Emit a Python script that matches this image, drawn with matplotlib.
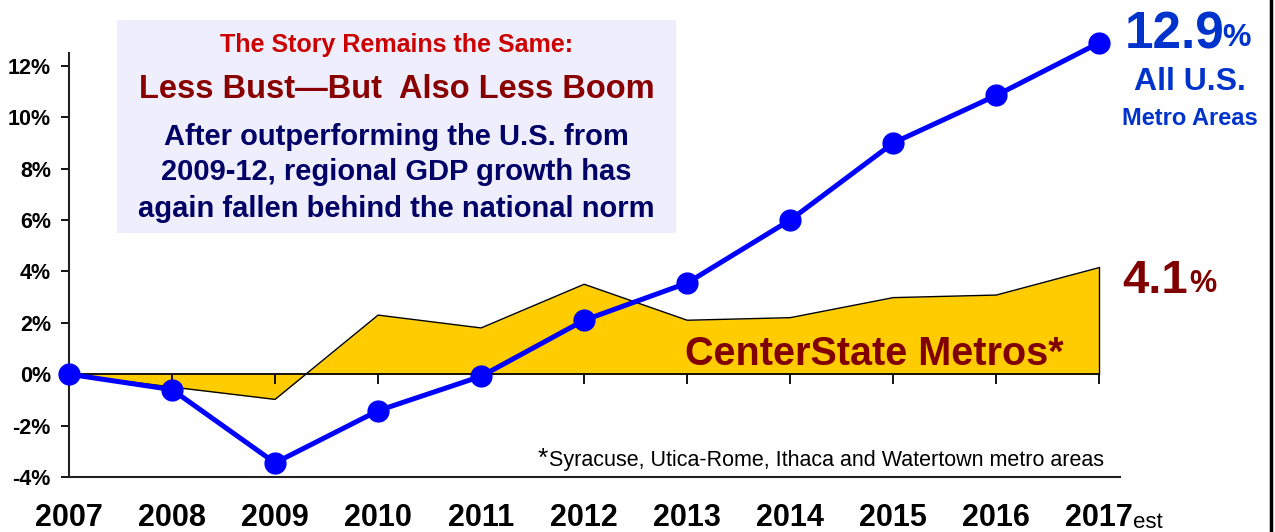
import numpy as np
import matplotlib.pyplot as plt
from matplotlib.patches import Rectangle
from matplotlib.lines import Line2D

plt.rcParams['font.family'] = ['Liberation Sans', 'DejaVu Sans']

years = [2007, 2008, 2009, 2010, 2011, 2012, 2013, 2014, 2015, 2016, 2017]
us_metro = [0.0, -0.6, -3.45, -1.42, -0.08, 2.1, 3.55, 6.0, 9.0, 10.85, 12.9]
centerstate = [0.0, -0.5, -0.98, 2.3, 1.8, 3.5, 2.1, 2.2, 2.98, 3.08, 4.15]
year_labels = [str(y) for y in years]
yticks = [-4, -2, 0, 2, 4, 6, 8, 10, 12]

fig = plt.figure(figsize=(12.75, 5.32), dpi=100)
ax = fig.add_axes([0.0541, 0.1034, 0.8243, 0.797])

# CenterState area
ax.fill_between(years, centerstate, 0, color='#FFCC00', lw=0, zorder=1)
ax.plot(years, centerstate, color='black', lw=1, zorder=2)
ax.plot([years[-1], years[-1]], [0, centerstate[-1]], color='black', lw=1, zorder=2)
ax.plot([years[0], years[-1]], [0, 0], color='black', lw=1.3, zorder=2)
ax.vlines(years[1:], -0.4, 0, color='black', lw=1.3, zorder=2)

# all US metros
ax.plot(years, us_metro, color='#0000FF', lw=3.6, marker='o', ms=15,
        zorder=5, clip_on=False)

ax.set_xlim(2007, 2017.2)
ax.set_ylim(-4, 12.5)
ax.set_yticks(yticks)
ax.set_yticklabels([f'{t}%' for t in yticks], fontsize=15.5, fontweight='bold')
ax.tick_params(axis='y', length=6, width=1.3, pad=7)
ax.set_xticks(years)
ax.set_xticklabels(year_labels, fontsize=22, fontweight='bold')
ax.tick_params(axis='x', length=0, pad=19)
for sp in ['top', 'right']:
    ax.spines[sp].set_visible(False)
for sp in ['left', 'bottom']:
    ax.spines[sp].set_linewidth(1.5)
    ax.spines[sp].set_color('#222222')

fig.text(0.8885, 0.008, 'est', fontsize=16, va='baseline', ha='left')

ax.text(2016.65, 0.8, 'CenterState Metros*', color='#800000', fontsize=28.5,
        fontweight='bold', ha='right', va='center')
ax.text(2011.55, -3.3, '*', fontsize=19, ha='left', va='center')
ax.text(2011.66, -3.35, 'Syracuse, Utica-Rome, Ithaca and Watertown metro areas',
        fontsize=15.5, ha='left', va='center')

# callout box
fig.patches.append(Rectangle((0.0918, 0.562), 0.4384, 0.4, transform=fig.transFigure,
                             facecolor='#EEEEFC', edgecolor='none', zorder=0))
fig.text(0.311, 1 - 45 / 532, 'The Story Remains the Same:', color='#CC0000',
         fontsize=18, fontweight='bold', ha='center', va='center')
fig.text(0.311, 1 - 89 / 532, 'Less Bust\u2014But  Also Less Boom', color='#880000',
         fontsize=23.5, fontweight='bold', ha='center', va='center')
body = ['After outperforming the U.S. from',
        '2009-12, regional GDP growth has',
        'again fallen behind the national norm']
for line, ypx in zip(body, [137, 172, 209]):
    fig.text(0.311, 1 - ypx / 532, line, color='#000066', fontsize=21,
             fontweight='bold', ha='center', va='center')

# right side labels
fig.text(0.882, 0.935, '12.9', color='#0033CC', fontsize=37, fontweight='bold',
         ha='left', va='center')
fig.text(0.959, 0.928, '%', color='#0033CC', fontsize=23, fontweight='bold',
         ha='left', va='center')
fig.text(0.933, 0.845, 'All U.S.', color='#0033CC', fontsize=23, fontweight='bold',
         ha='center', va='center')
fig.text(0.933, 0.778, 'Metro Areas', color='#0033CC', fontsize=17, fontweight='bold',
         ha='center', va='center')
fig.text(0.88, 0.472, '4.1', color='#800000', fontsize=34, fontweight='bold',
         ha='left', va='center')
fig.text(0.933, 0.466, '%', color='#800000', fontsize=22, fontweight='bold',
         ha='left', va='center')

fig.add_artist(Line2D([0.9965, 0.9965], [0, 1], color='black', lw=2.5,
                      transform=fig.transFigure))

fig.savefig('out.png', dpi=100, facecolor='white')
